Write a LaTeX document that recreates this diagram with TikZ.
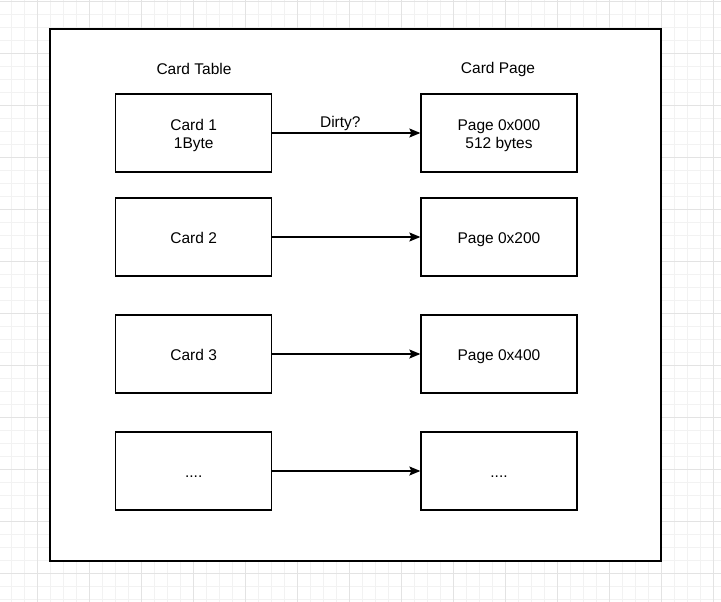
\documentclass[tikz,border=0pt]{standalone}
\usepackage{fontspec}
\setmainfont{Liberation Sans}
\usetikzlibrary{arrows.meta}

\newcommand{\toprule}{\rule{0pt}{17pt}}

\begin{document}
\begin{tikzpicture}%
  [x=1pt,y=-1pt,font=\fontsize{15.5}{18}\selectfont]
  \tikzstyle{box node}=[rectangle,draw=black,line width=1.3pt,
    minimum width=156pt,minimum height=78pt,align=center,inner sep=0,
    execute at begin node={\rule[-3.3pt]{0pt}{19pt}}]
  \tikzstyle{link}=[line width=1.3pt,-{Stealth[length=11pt,width=9pt,inset=2pt]}]
  \useasboundingbox (0,0) rectangle (721,602);
  % grid behind the frame
  \foreach \gx in {0,...,55}
    \draw[line width=0.8pt,black!5] (11.3+13*\gx,0) -- (11.3+13*\gx,602);
  \foreach \gy in {0,...,46}
    \draw[line width=0.8pt,black!5] (0,1.3+13*\gy) -- (721,1.3+13*\gy);
  \foreach \gx in {0,...,13}
    \draw[line width=0.8pt,black!11] (37.3+52*\gx,0) -- (37.3+52*\gx,602);
  \foreach \gy in {0,...,11}
    \draw[line width=0.8pt,black!11] (0,1.3+52*\gy) -- (721,1.3+52*\gy);
  \draw[line width=1.3pt,fill=white] (50,29) rectangle (661,561);
  % titles
  \node(ttab) at (194,69){Card Table};
  \node(tpag) at (498,69){Card Page};
  % cards
  \node(c1)[box node] at (193.7,133){\toprule Card 1\\1Byte};
  \node(c2)[box node] at (193.7,237){Card 2};
  \node(c3)[box node] at (193.7,354){Card 3};
  \node(c4)[box node] at (193.7,471){....};
  % pages
  \node(p1)[box node] at (499,133){\toprule Page 0x000\\512 bytes};
  \node(p2)[box node] at (499,237){Page 0x200};
  \node(p3)[box node] at (499,354){Page 0x400};
  \node(p4)[box node] at (499,471){....};
  \draw[link] (c1) -- node[above=-2pt,xshift=-6pt]{Dirty?} (p1);
  \draw[link] (c2) -- (p2);
  \draw[link] (c3) -- (p3);
  \draw[link] (c4) -- (p4);
\end{tikzpicture}
\end{document}
